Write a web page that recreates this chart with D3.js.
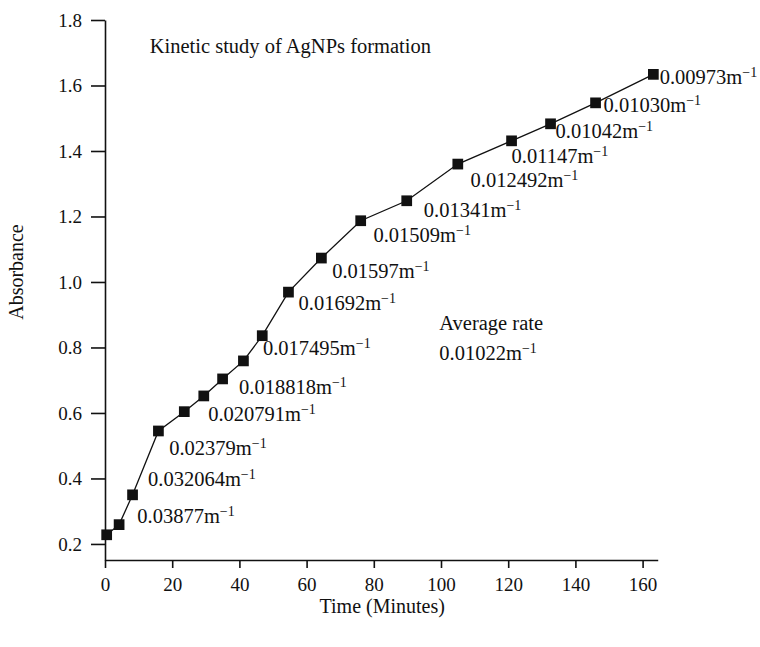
<!DOCTYPE html>
<html>
<head>
<meta charset="utf-8">
<script src="https://cdn.jsdelivr.net/npm/d3@7"></script>
<style>
  body { margin: 0; background: #fff; }
  text { font-family: "Liberation Serif", "DejaVu Serif", serif; fill: #111; }
</style>
</head>
<body>
<div class="chart"></div>
<script>
// chart data
var times = [0.5, 4.2, 8.2, 15.9, 23.6, 29.4, 35, 41.2, 46.8, 54.6, 64.4, 76.1, 89.8, 105, 121, 132.6, 146, 163.2];
var absorbance = [0.228, 0.259, 0.350, 0.545, 0.604, 0.652, 0.704, 0.759, 0.836, 0.969, 1.073, 1.187, 1.248, 1.360, 1.431, 1.483, 1.547, 1.634];

// rate constants written next to the curve
var rates = ["0.03877", "0.032064", "0.02379", "0.020791", "0.018818", "0.017495", "0.01692",
  "0.01597", "0.01509", "0.01341", "0.012492", "0.01147", "0.01042", "0.01030", "0.00973"];
// where each rate label starts (time, absorbance)
var rateAt = [[9.6, 0.265], [12.8, 0.378], [19.1, 0.473], [30.7, 0.576], [39.9, 0.659], [47, 0.778],
  [57.6, 0.915], [67.6, 1.013], [79.9, 1.122], [94.9, 1.199], [108.8, 1.291], [121, 1.364],
  [134.1, 1.44], [148.4, 1.519], [165.1, 1.605]];

var xTicks = [0, 20, 40, 60, 80, 100, 120, 140, 160];
var yTicks = [0.2, 0.4, 0.6, 0.8, 1.0, 1.2, 1.4, 1.6, 1.8];

var svgWidth = 760;
var svgHeight = 647;
var margin = { top: 20, right: 100, bottom: 87, left: 105 };
var width = svgWidth - margin.left - margin.right;
var height = svgHeight - margin.top - margin.bottom;

var labelSize = 20.5;

var svg = d3.select(".chart")
  .append("svg")
  .attr("width", svgWidth)
  .attr("height", svgHeight);

var chartGroup = svg.append("g")
  .attr("transform", `translate(${margin.left}, ${margin.top})`);

// scales
var xScale = d3.scaleLinear()
  .domain([0, 164.5])
  .range([0, 164.5 * 3.36]);

var yScale = d3.scaleLinear()
  .domain([0.151, 1.8])
  .range([height, 0]);

// axes
var bottomAxis = d3.axisBottom(xScale).tickValues(xTicks).tickSize(8).tickPadding(10).tickSizeOuter(0);
var leftAxis = d3.axisLeft(yScale).tickValues(yTicks).tickSize(14).tickPadding(9).tickSizeOuter(0)
  .tickFormat(d3.format(".1f"));

var xAxisG = chartGroup.append("g")
  .attr("transform", `translate(0, ${height})`)
  .call(bottomAxis);

var yAxisG = chartGroup.append("g")
  .call(leftAxis);

[xAxisG, yAxisG].forEach(function(g) {
  g.selectAll("path, line").attr("stroke", "#111").attr("stroke-width", 1.6);
  g.selectAll("text").attr("font-size", 19).attr("fill", "#111")
    .style("font-family", "'Liberation Serif', serif");
});

// line + square markers
var pts = times.map((t, i) => [t, absorbance[i]]);
var line = d3.line().x(d => xScale(d[0])).y(d => yScale(d[1]));

chartGroup.append("path")
  .datum(pts)
  .attr("d", line)
  .attr("fill", "none")
  .attr("stroke", "#111")
  .attr("stroke-width", 1.3);

chartGroup.selectAll(".pt")
  .data(pts)
  .enter()
  .append("path")
  .attr("class", "pt")
  .attr("transform", d => `translate(${xScale(d[0])}, ${yScale(d[1])})`)
  .attr("d", d3.symbol().type(d3.symbolSquare).size(115))
  .attr("fill", "#111");

// rate labels, "m" with a raised -1
function rateLabel(g, value) {
  g.append("tspan").text(value + "m");
  g.append("tspan").attr("dy", -7).attr("font-size", 14).text("\u22121");
}

rates.forEach(function(r, i) {
  var t = chartGroup.append("text")
    .attr("x", xScale(rateAt[i][0]))
    .attr("y", yScale(rateAt[i][1]))
    .attr("font-size", labelSize);
  rateLabel(t, r);
});

// average rate note
chartGroup.append("text")
  .attr("x", xScale(99.5))
  .attr("y", yScale(0.853))
  .attr("font-size", labelSize)
  .text("Average rate");

var avg = chartGroup.append("text")
  .attr("x", xScale(99.5))
  .attr("y", yScale(0.762))
  .attr("font-size", labelSize);
rateLabel(avg, "0.01022");

// title inside the plot
chartGroup.append("text")
  .attr("x", xScale(13.3))
  .attr("y", yScale(1.7))
  .attr("font-size", labelSize)
  .text("Kinetic study of AgNPs formation");

// axis labels
chartGroup.append("text")
  .attr("transform", `translate(${xScale(82.5)}, ${height + 53})`)
  .attr("text-anchor", "middle")
  .attr("font-size", 20)
  .text("Time (Minutes)");

svg.append("text")
  .attr("transform", `translate(23, 272) rotate(-90)`)
  .attr("text-anchor", "middle")
  .attr("font-size", 20)
  .text("Absorbance");
</script>
</body>
</html>
